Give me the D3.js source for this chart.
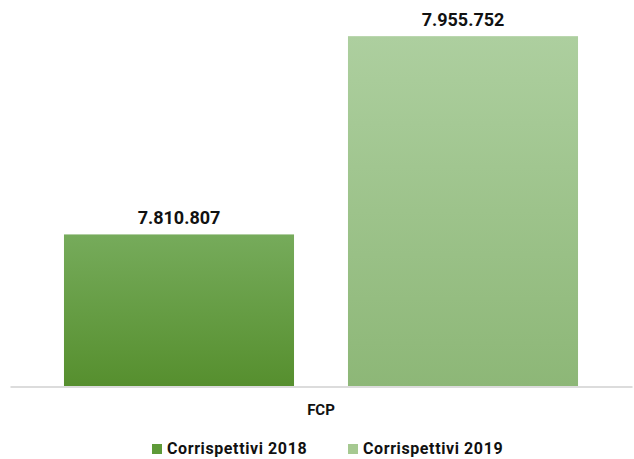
<!DOCTYPE html>
<html>
<head>
<meta charset="utf-8">
<script src="https://cdn.jsdelivr.net/npm/d3@7"></script>
<style>
  body { margin: 0; background: #fff; }
  text { font-family: Roboto, "DejaVu Sans", sans-serif; font-weight: bold; fill: #111; }
</style>
</head>
<body>
<div id="viz"></div>
<script>
// data
const categories = ["FCP"];
const series     = ["Corrispettivi 2018", "Corrispettivi 2019"];
const values     = [7810807, 7955752];
const colors     = [
  {top: "#76ab5b", bottom: "#568f2e", legend: "#5e9a38"},
  {top: "#adcf9f", bottom: "#8db777", legend: "#a6c991"}
];

const width = 634, height = 459,
      margin = {left: 10, right: 2, top: 3, bottom: 73};

const fmt = v => d3.format(",")(v).replace(/,/g, ".");

const svg = d3.select("#viz").html('')
  .append("svg")
  .attr("width", width)
  .attr("height", height);

const x0 = d3.scaleBand()
  .domain(categories)
  .range([margin.left, width - margin.right])
  .paddingOuter(0.105)
  .paddingInner(0);

const x1 = d3.scaleBand()
  .domain(series)
  .range([0, x0.bandwidth()])
  .paddingInner(0.19)
  .paddingOuter(0);

// axis starts at 7.700.000 like the original chart
const y = d3.scaleLinear()
  .domain([7700000, 7980000])
  .range([height - margin.bottom, margin.top]);

const defs = svg.append("defs");
colors.forEach((c, i) => {
  const g = defs.append("linearGradient")
    .attr("id", "grad" + i)
    .attr("x1", 0).attr("x2", 0).attr("y1", 0).attr("y2", 1);
  g.append("stop").attr("offset", "0%").attr("stop-color", c.top);
  g.append("stop").attr("offset", "100%").attr("stop-color", c.bottom);
});

const rows = series.map((s, i) => ({cat: categories[0], series: s, value: values[i], i}));

// bars
svg.append("g")
  .selectAll("rect")
  .data(rows)
  .join("rect")
  .attr("x", d => x0(d.cat) + x1(d.series))
  .attr("y", d => y(d.value))
  .attr("width", x1.bandwidth())
  .attr("height", d => y.range()[0] - y(d.value))
  .attr("fill", d => "url(#grad" + d.i + ")");

// value labels
svg.append("g")
  .selectAll("text")
  .data(rows)
  .join("text")
  .attr("x", d => x0(d.cat) + x1(d.series) + x1.bandwidth() / 2)
  .attr("y", d => y(d.value) - 10)
  .attr("text-anchor", "middle")
  .style("font-size", "18px")
  .text(d => fmt(d.value));

// x axis
const xAxis = svg.append("g")
  .attr("transform", `translate(0,${y.range()[0] + 0.5})`)
  .call(d3.axisBottom(x0).tickSize(0).tickPadding(18));
xAxis.select(".domain").attr("stroke", "#d0d0d0").attr("stroke-width", 1.6);
xAxis.selectAll("text")
  .style("font-size", "15px")
  .style("font-family", "Roboto, sans-serif")
  .style("font-weight", "bold")
  .attr("fill", "#111");

// legend
const legend = svg.append("g").attr("transform", "translate(152,454)");
const lx = [0, 196];
series.forEach((s, i) => {
  const g = legend.append("g").attr("transform", `translate(${lx[i]},0)`);
  g.append("rect")
    .attr("x", 0).attr("y", -10)
    .attr("width", 10).attr("height", 10)
    .attr("fill", colors[i].legend);
  g.append("text")
    .attr("x", 15).attr("y", 0)
    .style("font-size", "16px")
    .style("letter-spacing", "0.6px")
    .text(s);
});
</script>
</body>
</html>
